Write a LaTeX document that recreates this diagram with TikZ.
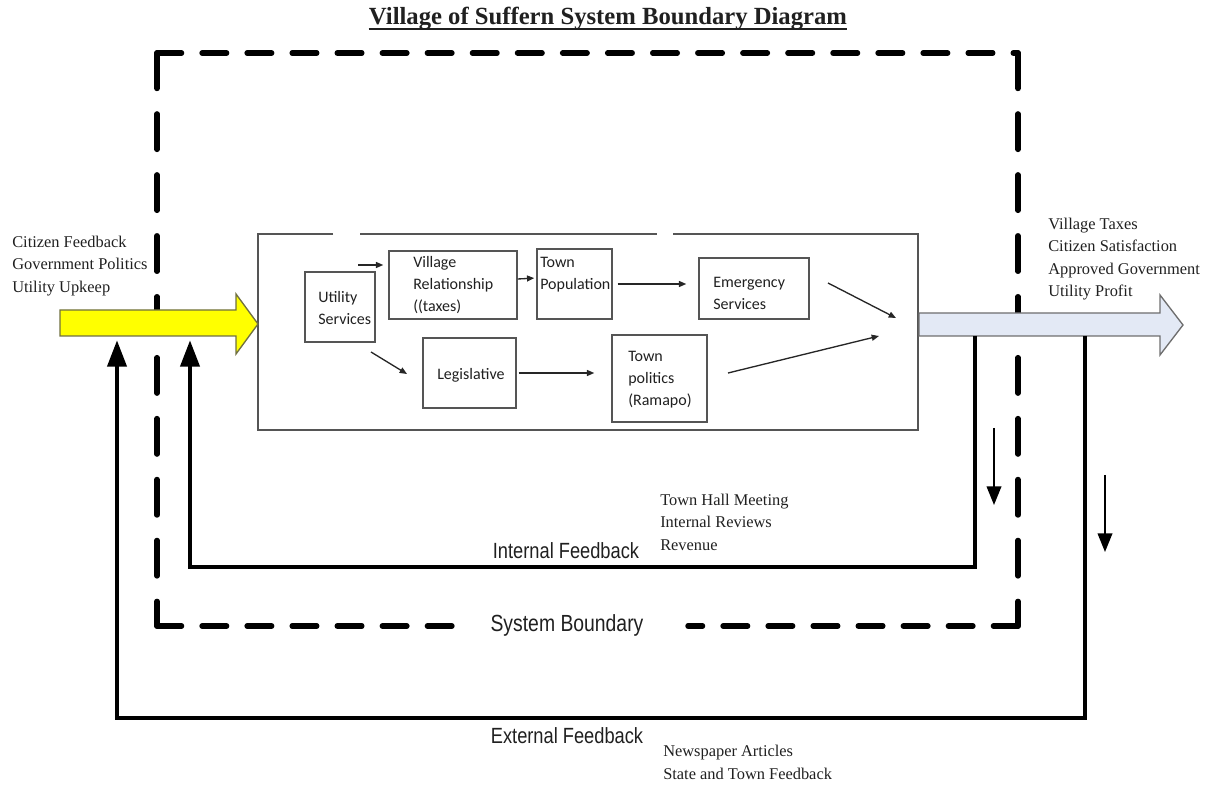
\documentclass[tikz,border=0pt]{standalone}
\usepackage{fontspec}
\setmainfont{Liberation Serif}
\newfontfamily\carl{Carlito}
\newfontfamily\ars{Liberation Sans}
\usetikzlibrary{arrows.meta}
\definecolor{bx}{HTML}{555555}
\definecolor{txtc}{HTML}{202020}
\definecolor{yel}{HTML}{FFFF00}
\definecolor{yelb}{HTML}{707040}
\definecolor{blu}{HTML}{E3E9F5}
\definecolor{blub}{HTML}{6E6E6E}
\begin{document}
\begin{tikzpicture}[x=0.75pt,y=-0.75pt,
  lbl/.style={font=\fontsize{12.3}{16.9}\selectfont, text=txtc, align=left, inner sep=0pt, anchor=west},
  sanslbl/.style={font=\ars\fontsize{16.5}{18}\selectfont, text=txtc, inner sep=0pt},
  bxtxt/.style={font=\carl\fontsize{12}{16.5}\selectfont, text=txtc, align=left, inner sep=0pt, anchor=west},
  box/.style={draw=bx, line width=1.1pt, inner sep=0pt},
  sarr/.style={draw=black!85, line width=1pt, -{Triangle[length=5.5pt,width=4.5pt]}},
  fb/.style={line width=3.7pt, -{Triangle[length=20pt,width=14pt]}},
  darr/.style={line width=1.3pt, -{Triangle[length=14pt,width=11pt]}},
  bndh/.style={line width=4.1pt, line cap=round, dash pattern=on 18.4pt off 15.4pt},
  bndv/.style={line width=4.1pt, line cap=round, dash pattern=on 26.6pt off 19.1pt},
]
\useasboundingbox (0,0) rectangle (1215,787);

% title
\node[font=\bfseries\fontsize{18.5}{20}\selectfont, text=txtc, inner sep=0pt] (title) at (608,19) {Village of Suffern System Boundary Diagram};
\draw[line width=1.1pt, txtc] ([yshift=-3pt]title.base west) -- ([yshift=-3pt]title.base east);

% system boundary (dashed)
\draw[bndh] (157,53) -- (1018,53);
\draw[bndv] (157,53) -- (157,626);
\draw[bndv] (1018,53) -- (1018,626);
\draw[bndh] (157,626) -- (468,626);
\draw[bndh] (1018,626) -- (688,626);
\node[sanslbl, font=\ars\fontsize{17.5}{19}\selectfont] (sb) at (567,625) {\scalebox{0.83}[1]{System Boundary}};

% inner process box
\draw[draw=bx, line width=1.5pt] (333,234) -- (258,234) -- (258,430) -- (918,430) -- (918,234) -- (673,234);
\draw[draw=bx, line width=1.5pt] (360,234) -- (657,234);

% input arrow (yellow)
\draw[fill=yel, draw=yelb, line width=1pt, line join=miter] (60,310) -- (236,310) -- (236,294) -- (258,324) -- (236,354) -- (236,336) -- (60,336) -- cycle;
% output arrow (light blue)
\draw[fill=blu, draw=blub, line width=1pt, line join=miter] (919,313) -- (1160,313) -- (1160,295) -- (1183,325) -- (1160,355) -- (1160,336) -- (919,336) -- cycle;

% boxes
\node[box, minimum width=52.5pt, minimum height=52.5pt] (us) at (340,307) {};
\node[box, minimum width=96pt, minimum height=51pt] (vr) at (453,285) {};
\node[box, minimum width=56.25pt, minimum height=52.5pt] (tp) at (574.5,284) {};
\node[box, minimum width=82.5pt, minimum height=45.75pt] (es) at (754,288.5) {};
\node[box, minimum width=69.75pt, minimum height=52.5pt] (leg) at (469.5,373) {};
\node[box, minimum width=71.25pt, minimum height=65.25pt] (tpo) at (659.5,378.5) {};

\node[bxtxt] (ust) at (318,308) {Utility\\Services};
\node[bxtxt] (vrt) at (413,285) {Village\\Relationship\\((taxes)};
\node[bxtxt] (tpt) at (540,274.5) {Town\\Population};
\node[bxtxt] (est) at (713,293.5) {Emergency\\Services};
\node[bxtxt] (legt) at (437,375) {Legislative};
\node[bxtxt] (tpot) at (628,380) {Town\\politics\\(Ramapo)};

% inner arrows
\coordinate (a1) at (358,265);
\draw[sarr, shorten >=3.75pt] (a1) -- (a1 -| vr.west);
\draw[sarr, shorten >=1.5pt] ([yshift=4.5pt]vr.east) -- ([yshift=4.5pt]tp.west);
\draw[sarr, shorten <=3.75pt, shorten >=9pt] (tp.east) -- (tp.east -| es.west);
\draw[sarr, shorten <=1.5pt, shorten >=12.75pt] (leg.east) -- (leg.east -| tpo.west);
\coordinate (u1) at (371,352);
\coordinate (u2) at (407,374);
\draw[sarr] (u1) -- (u2);
\coordinate (e1) at (828,283);
\coordinate (m1) at (896,318);
\draw[sarr] (e1) -- (m1);
\coordinate (t1) at (728,373);
\coordinate (m2) at (879,336);
\draw[sarr] (t1) -- (m2);

% feedback loops
\coordinate (if0) at (975,336);
\coordinate (if1) at (190,340);
\coordinate (ifb) at (0,567);
\draw[fb] (if0) |- (ifb -| if1) -- (if1);
\coordinate (ef0) at (1085,336);
\coordinate (ef1) at (117,340);
\coordinate (efb) at (0,718);
\draw[fb] (ef0) |- (efb -| ef1) -- (ef1);

% small down arrows
\coordinate (d1a) at (994,428);
\coordinate (d1b) at (994,505);
\draw[darr] (d1a) -- (d1b);
\coordinate (d2a) at (1105,475);
\coordinate (d2b) at (1105,552);
\draw[darr] (d2a) -- (d2b);

% labels
\node[lbl] (inl) at (12,266) {Citizen Feedback\\Government Politics\\Utility Upkeep};
\node[lbl] (outl) at (1048,259) {Village Taxes\\Citizen Satisfaction\\Approved Government\\Utility Profit};
\node[lbl] (intl) at (660,522) {Town Hall Meeting\\Internal Reviews\\Revenue};
\node[lbl] (extl) at (663,762.5) {Newspaper Articles\\State and Town Feedback};
\node[sanslbl] (if) at (566,551) {\scalebox{0.83}[1]{Internal Feedback}};
\node[sanslbl] (ef) at (567,736) {\scalebox{0.83}[1]{External Feedback}};
\end{tikzpicture}
\end{document}
